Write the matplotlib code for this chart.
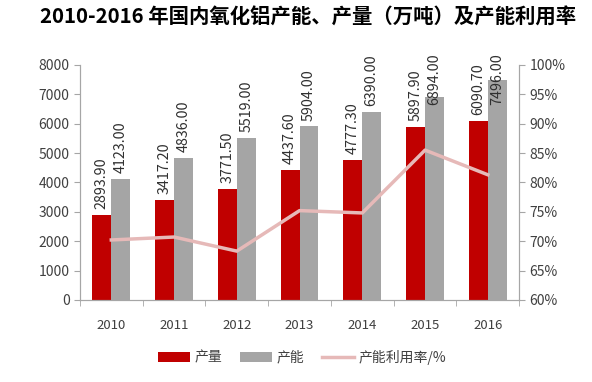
import matplotlib
matplotlib.use("Agg")
import matplotlib.pyplot as plt
import numpy as np
from matplotlib.ticker import FuncFormatter

plt.rcParams['font.family'] = ['Noto Sans CJK SC', 'DejaVu Sans']

years = ['2010', '2011', '2012', '2013', '2014', '2015', '2016']
output = [2893.90, 3417.20, 3771.50, 4437.60, 4777.30, 5897.90, 6090.70]
capacity = [4123.00, 4836.00, 5519.00, 5904.00, 6390.00, 6894.00, 7496.00]
utilization = [70.2, 70.7, 68.3, 75.2, 74.8, 85.5, 81.3]

fig = plt.figure(figsize=(5.92, 3.82), dpi=100)
ax = fig.add_axes([0.135, 0.215, 0.742, 0.615])
ax2 = ax.twinx()

x = np.arange(len(years))
w = 0.3
red = '#C00000'
gray = '#A5A5A5'
pink = '#E6B9B8'
spine_c = '#A6A6A6'
txt_c = '#404040'

gap = 200
cap = 6640  # highest label baseline so labels stay below the title

b1 = ax.bar(x - w/2, output, w, color=red, label='产量', zorder=2)
b2 = ax.bar(x + w/2, capacity, w, color=gray, label='产能', zorder=2)
for xi, v in zip(x, output):
    ax.text(xi - w/2, min(v + gap, cap), f'{v:.2f}', rotation=90, ha='center', va='bottom',
            fontsize=10.3, color='#303030', zorder=4)
for xi, v in zip(x, capacity):
    ax.text(xi + w/2, min(v + gap, cap), f'{v:.2f}', rotation=90, ha='center', va='bottom',
            fontsize=10.3, color='#303030', zorder=4)

l, = ax2.plot(x, utilization, color=pink, lw=2.5, label='产能利用率/%', zorder=3)

ax.set_xlim(-0.5, len(years) - 0.5)
ax.set_ylim(0, 8000)
ax.set_yticks(np.arange(0, 8001, 1000))
ax2.set_ylim(60, 100)
ax2.set_yticks(np.arange(60, 101, 5))
ax2.yaxis.set_major_formatter(FuncFormatter(lambda v, p: f'{int(v)}%'))

ax.set_xticks(x)
ax.set_xticklabels(years)
ax.set_xticks(np.arange(-0.5, len(years) + 0.5, 1), minor=True)
ax.tick_params(axis='x', which='major', length=0, pad=14, labelsize=9.5, labelcolor=txt_c)
ax.tick_params(axis='x', which='minor', length=4, color=spine_c, direction='out')
ax.tick_params(axis='y', length=4, color=spine_c, labelsize=10, labelcolor=txt_c)
ax2.tick_params(axis='y', length=4, color=spine_c, labelsize=10, labelcolor=txt_c)

for a in (ax, ax2):
    a.spines['top'].set_visible(False)
    for s in ('left', 'right', 'bottom'):
        a.spines[s].set_color(spine_c)

fig.text(0.52, 0.955, '2010-2016 年国内氧化铝产能、产量（万吨）及产能利用率', ha='center', va='center',
         fontsize=14.7, fontweight='bold', color='black')

fig.legend(handles=[b1, b2, l], loc='center', bbox_to_anchor=(0.51, 0.065), ncol=3, frameon=False,
           fontsize=10, handlelength=2.3, handleheight=0.8, handletextpad=0.3, columnspacing=1.3,
           labelcolor=txt_c)

fig.savefig('out.png', dpi=100)
